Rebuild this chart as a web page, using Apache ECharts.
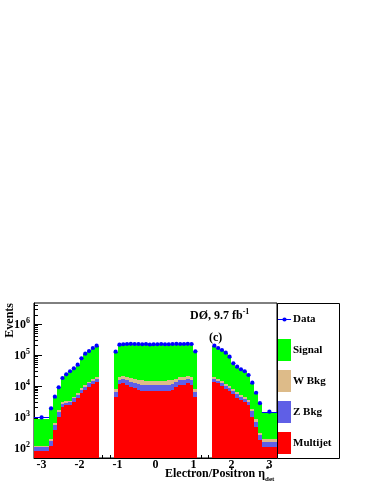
<!DOCTYPE html>
<html><head><meta charset="utf-8">
<script src="https://cdn.jsdelivr.net/npm/echarts@6/dist/echarts.min.js"></script>
<style>html,body{margin:0;padding:0;background:#fff}#c{width:374px;height:484px}</style>
</head><body><div id="c"></div>
<script>
// ---- bins (eta_det) ----
const binLow = [-3.2,
  -2.8,-2.7,-2.6,-2.5,-2.4,-2.3,-2.2,-2.1,-2.0,-1.9,-1.8,-1.7,-1.6,
  -1.1,-1.0,-0.9,-0.8,-0.7,-0.6,-0.5,-0.4,-0.3,-0.2,-0.1,0.0,0.1,0.2,0.3,0.4,0.5,0.6,0.7,0.8,0.9,1.0,
  1.5,1.6,1.7,1.8,1.9,2.0,2.1,2.2,2.3,2.4,2.5,2.6,2.7,
  2.8];
const binHigh = [-2.8,
  -2.7,-2.6,-2.5,-2.4,-2.3,-2.2,-2.1,-2.0,-1.9,-1.8,-1.7,-1.6,-1.5,
  -1.0,-0.9,-0.8,-0.7,-0.6,-0.5,-0.4,-0.3,-0.2,-0.1,0.0,0.1,0.2,0.3,0.4,0.5,0.6,0.7,0.8,0.9,1.0,1.1,
  1.6,1.7,1.8,1.9,2.0,2.1,2.2,2.3,2.4,2.5,2.6,2.7,2.8,
  3.2];
// ---- series values ----
const dataCounts = [950,
  1880,4470,9000,18000,23700,29700,37000,48500,78000,110000,134000,168000,200000,
  128000,215000,222000,226000,230000,226000,226000,222000,226000,218000,222000,222000,226000,222000,222000,226000,230000,226000,226000,230000,226000,130000,
  200000,168000,145000,119000,88000,53700,41900,34500,29700,22500,12700,6000,2760,
  1460];
const multijet = [80,
  110,370,1000,2000,2400,2450,3100,3950,5700,7300,9400,11500,13300,
  4500,11500,12700,10700,9400,8300,7400,7000,6800,6600,6700,6700,6600,6800,7000,7400,9000,10700,10700,12700,10700,4500,
  13700,12100,9900,7750,7000,5300,4150,3500,3090,2400,1010,480,177,
  108];
const zBkg = [28,
  55,170,450,550,450,550,850,1050,1600,2100,2600,3000,3000,
  2000,4000,4300,4300,4100,4200,4100,4000,4000,4000,4000,4000,4000,4000,4000,4100,4000,4300,4300,4300,4300,2000,
  2700,2600,2400,2050,1700,1400,1250,1000,810,700,490,220,83,
  48];
const wBkg = [8,
  30,70,200,450,350,350,500,700,1000,1200,1600,2000,2400,
  1500,4000,4000,4000,4000,4000,4000,4000,3700,3700,3600,3600,3700,3700,4000,4000,4000,4000,4000,4000,4000,1500,
  3500,2300,1700,1400,1200,1000,800,700,600,500,250,120,50,
  31];
const signal = [734,
  1555,3590,6950,14000,19800,25150,31550,41300,66700,94400,116400,146500,176300,
  114000,190500,189000,191000,192500,193500,194500,195000,195500,195700,195700,195700,195700,195500,195000,194500,193000,191000,191000,189000,191000,116000,
  172100,144000,125000,102800,74600,43800,34000,27900,24000,18000,10450,4940,2340,
  1103];
// ---- ticks ----
const xTickValues = [-3,-2,-1,0,1,2,3];
const xTickLabels = ['-3','-2','-1','0','1','2','3'];
const yTickValues = [100,1000,10000,100000,1000000];
const yTickExponents = ['2','3','4','5','6'];

const X_MIN = -3.2, X_MAX = 3.2, Y_MIN = 46.4, Y_MAX = 4.8e6;
const FONT = 'Liberation Serif';
const DATA_COLOR = '#0000ff';

const xMinor = [];
for (let k = -16; k <= 16; k++) { const v = k / 5; if (Math.abs(v - Math.round(v)) > 1e-6) xMinor.push(+v.toFixed(1)); }
const yMinor = [];
for (let e = 1; e <= 6; e++) for (let m = 2; m <= 9; m++) { const v = m * Math.pow(10, e); if (v > Y_MIN && v < Y_MAX) yMinor.push(v); }

// cumulative stack levels
const lvMJ = multijet.slice();
const lvZ = lvMJ.map((v, i) => v + zBkg[i]);
const lvW = lvZ.map((v, i) => v + wBkg[i]);
const lvS = lvW.map((v, i) => v + signal[i]);

function layer(lower, upper) {
  return binLow.map((lo, i) => [lo, binHigh[i], lower ? lower[i] : Y_MIN, upper[i]]);
}
function rectRender(params, api) {
  const a = api.coord([api.value(0), api.value(3)]);
  const b = api.coord([api.value(1), api.value(2)]);
  const x1 = Math.round(a[0]), x2 = Math.round(b[0]);
  const y1 = Math.round(a[1]), y2 = Math.round(b[1]);
  return { type: 'rect', shape: { x: x1, y: y1, width: x2 - x1, height: y2 - y1 },
    style: { fill: api.visual('color') } };
}
function barSeries(name, color, lower, upper) {
  return { type: 'custom', name: name, renderItem: rectRender, clip: true,
    itemStyle: { color: color }, encode: { x: [0, 1], y: [2, 3] },
    data: layer(lower, upper), z: 2 };
}

const chart = echarts.init(document.getElementById('c'), null, { renderer: 'canvas' });
const supRich = {
  b: { fontFamily: FONT, fontWeight: 'bold', fontSize: 12, color: '#000', lineHeight: 14, verticalAlign: 'bottom' },
  s: { fontFamily: FONT, fontWeight: 'bold', fontSize: 8, color: '#000', lineHeight: 8, verticalAlign: 'top' }
};
chart.setOption({
  animation: false,
  backgroundColor: '#fff',
  grid: { left: 34, top: 303, width: 243, height: 155, show: true, borderColor: '#000', borderWidth: 1, backgroundColor: 'transparent' },
  xAxis: [{
    type: 'value', min: X_MIN, max: X_MAX,
    axisLine: { show: true, onZero: false, lineStyle: { color: '#000', width: 1 } },
    axisTick: { show: true, inside: true, length: 6, customValues: xTickValues, lineStyle: { color: '#000' } },
    axisLabel: { customValues: xTickValues, formatter: v => xTickLabels[xTickValues.indexOf(Math.round(v))],
      margin: 1, fontFamily: FONT, fontWeight: 'bold', fontSize: 12, color: '#000' },
    splitLine: { show: false }
  }, {
    type: 'value', min: X_MIN, max: X_MAX, position: 'bottom',
    axisLine: { show: false, onZero: false },
    axisTick: { show: true, inside: true, length: 3, customValues: xMinor, lineStyle: { color: '#000' } },
    axisLabel: { show: false }, splitLine: { show: false }
  }],
  yAxis: [{
    type: 'log', logBase: 10, min: Y_MIN, max: Y_MAX, position: 'left',
    axisLine: { show: true, onZero: false, lineStyle: { color: '#000', width: 1 } },
    axisTick: { show: true, inside: true, length: 8, customValues: yTickValues, lineStyle: { color: '#000' } },
    axisLabel: { customValues: yTickValues, margin: 4,
      formatter: v => '{b|10}{s|' + yTickExponents[yTickValues.indexOf(Math.round(v))] + '}', rich: supRich },
    splitLine: { show: false }
  }, {
    type: 'log', logBase: 10, min: Y_MIN, max: Y_MAX, position: 'left',
    axisLine: { show: false, onZero: false },
    axisTick: { show: true, inside: true, length: 4, customValues: yMinor, lineStyle: { color: '#000' } },
    axisLabel: { show: false }, splitLine: { show: false }
  }],
  legend: {
    orient: 'vertical', left: 278, top: 339, padding: 0, itemGap: 9, itemWidth: 13, itemHeight: 22,
    textStyle: { fontFamily: FONT, fontWeight: 'bold', fontSize: 11, color: '#000', padding: [0, 0, 0, -3] },
    selectedMode: false,
    data: [
      { name: 'Signal', icon: 'rect' },
      { name: 'W Bkg', icon: 'rect' },
      { name: 'Z Bkg', icon: 'rect' },
      { name: 'Multijet', icon: 'rect' }
    ]
  },
  graphic: [
    { type: 'rect', shape: { x: 277.5, y: 303.5, width: 62, height: 155 }, style: { fill: 'none', stroke: '#000', lineWidth: 1 }, z: 10 },
    // "Data" legend entry
    { type: 'line', shape: { x1: 278, y1: 319.5, x2: 291, y2: 319.5 }, style: { stroke: DATA_COLOR, lineWidth: 1 }, z: 10 },
    { type: 'circle', shape: { cx: 284.5, cy: 319.5, r: 2.1 }, style: { fill: DATA_COLOR }, z: 10 },
    { type: 'text', x: 293, y: 319.5, style: { text: 'Data', fontFamily: FONT, fontWeight: 'bold', fontSize: 11, fill: '#000', verticalAlign: 'middle' }, z: 10 },
    { type: 'text', x: 190, y: 315, style: { text: '{a|DØ, 9.7 fb}{s|-1}', verticalAlign: 'middle',
      rich: { a: { fontFamily: FONT, fontWeight: 'bold', fontSize: 12, color: '#000', lineHeight: 14, verticalAlign: 'bottom' },
              s: { fontFamily: FONT, fontWeight: 'bold', fontSize: 8, color: '#000', lineHeight: 8, verticalAlign: 'top' } } }, z: 10 },
    { type: 'text', x: 209, y: 338, style: { text: '(c)', fontFamily: FONT, fontWeight: 'bold', fontSize: 12, fill: '#000', verticalAlign: 'middle' }, z: 10 },
    { type: 'text', x: 10, y: 303, rotation: Math.PI / 2, style: { text: 'Events', fontFamily: FONT, fontWeight: 'bold', fontSize: 12, fill: '#000', align: 'right', verticalAlign: 'middle' }, z: 10 },
    { type: 'text', x: 265, y: 474, style: { text: 'Electron/Positron η', fontFamily: FONT, fontWeight: 'bold', fontSize: 12, fill: '#000', align: 'right', verticalAlign: 'middle' }, z: 10 },
    { type: 'text', x: 266, y: 467, style: { text: 'e', fontFamily: FONT, fontWeight: 'bold', fontSize: 7, fill: '#000', align: 'left', verticalAlign: 'middle' }, z: 10 },
    { type: 'text', x: 265, y: 479, style: { text: 'det', fontFamily: FONT, fontWeight: 'bold', fontSize: 7, fill: '#000', align: 'left', verticalAlign: 'middle' }, z: 10 }
  ],
  series: [
    barSeries('Signal', '#00ff00', lvW, lvS),
    barSeries('W Bkg', '#ddbb89', lvZ, lvW),
    barSeries('Z Bkg', '#5f5fe6', lvMJ, lvZ),
    barSeries('Multijet', '#ff0000', null, lvMJ),
    {
      type: 'custom', name: 'DataBars', clip: true, z: 4,
      encode: { x: [0, 1], y: 2 },
      data: binLow.map((lo, i) => [lo, binHigh[i], dataCounts[i]]),
      renderItem: function (params, api) {
        const a = api.coord([api.value(0), api.value(2)]);
        const b = api.coord([api.value(1), api.value(2)]);
        const y = Math.round(a[1]) + 0.5;
        return { type: 'line', shape: { x1: a[0], y1: y, x2: b[0], y2: y }, style: { stroke: DATA_COLOR, lineWidth: 1 } };
      }
    },
    {
      type: 'scatter', name: 'Data', z: 5, symbol: 'circle', symbolSize: 4.2,
      itemStyle: { color: DATA_COLOR, opacity: 1 },
      data: binLow.map((lo, i) => [(lo + binHigh[i]) / 2, dataCounts[i]])
    }
  ]
});
</script></body></html>
